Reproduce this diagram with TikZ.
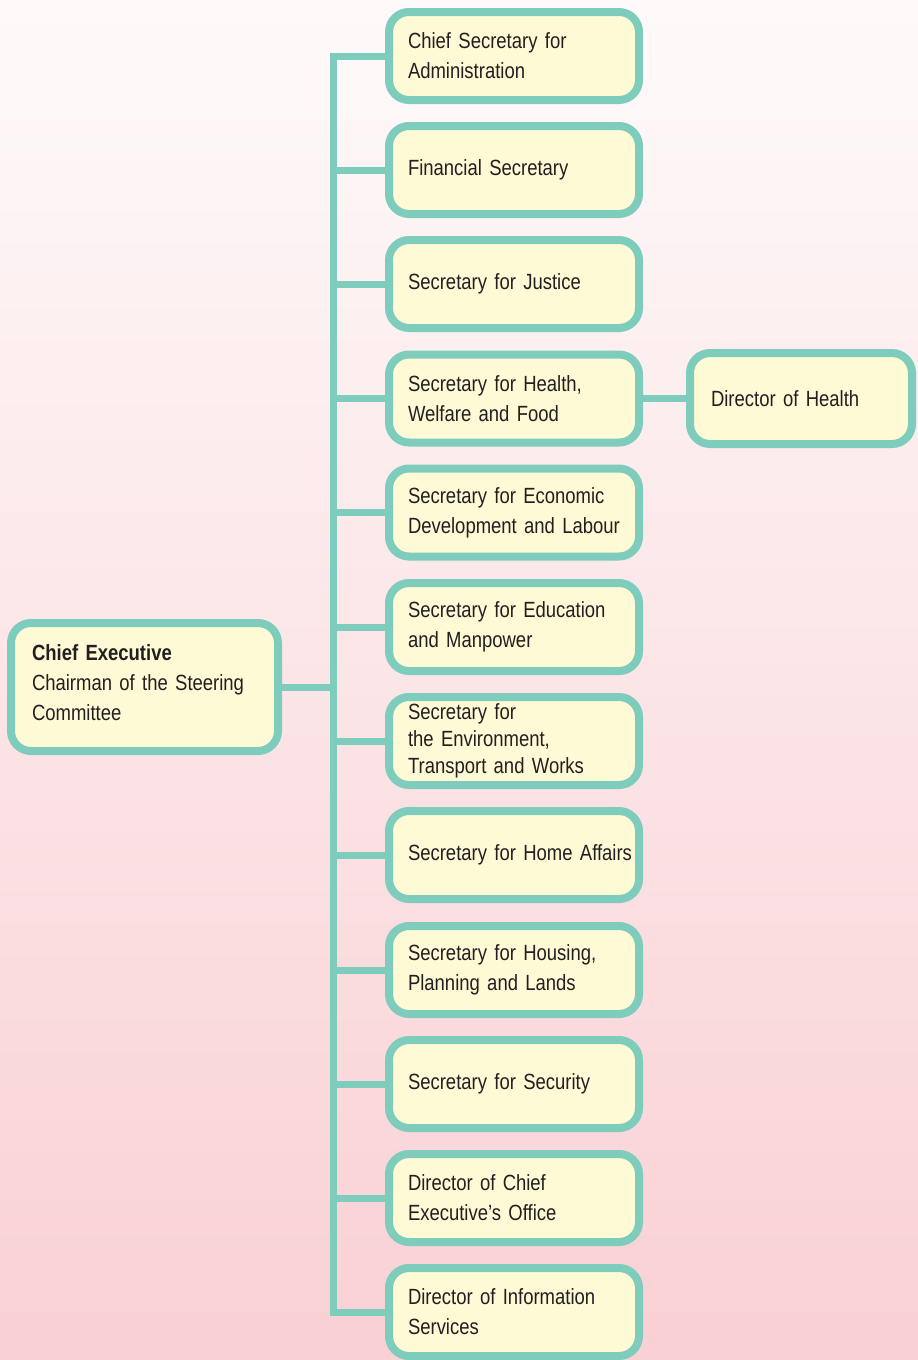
\documentclass[tikz,border=0pt]{standalone}
\usepackage{fontspec}
\setmainfont{Liberation Sans}[FakeStretch=0.84,WordSpace=0.75]
\definecolor{teal}{HTML}{7ECCBB}
\definecolor{boxfill}{HTML}{FFFAD6}
\definecolor{ink}{HTML}{231F20}
\definecolor{bgtop}{HTML}{FEFAFA}
\definecolor{bgbot}{HTML}{F9D0D4}
\tikzset{
  box/.style={draw=teal, fill=boxfill, line width=8pt, rounded corners=20pt,
    minimum width=250pt, minimum height=88pt, text width=212pt, inner xsep=19pt,
    align=left, text=ink, font=\fontsize{22pt}{30pt}\selectfont},
  conn/.style={draw=teal, line width=7pt, line join=miter}
}
\begin{document}
\begin{tikzpicture}[x=1pt,y=-1pt]
\shade[top color=bgtop, bottom color=bgbot] (0,0) rectangle (918,1360);
\useasboundingbox (0,0) rectangle (918,1360);
\coordinate (sp) at (333,0);
\node[box] (b1) at (514,56) {Chief Secretary for\\Administration};
\node[box] (b2) at (514,170) {Financial Secretary};
\node[box] (b3) at (514,284) {Secretary for Justice};
\node[box] (b4) at (514,398.5) {Secretary for Health,\\Welfare and Food};
\node[box] (b5) at (514,512.5) {\mbox{Secretary for Economic}\\\mbox{Development and Labour}};
\node[box] (b6) at (514,627) {\mbox{Secretary for Education}\\and Manpower};
\node[box, font=\fontsize{22pt}{27pt}\selectfont] (b7) at (514,741) {Secretary for\\the Environment,\\Transport and Works};
\node[box] (b8) at (514,855) {\mbox{Secretary for Home Affairs}};
\node[box] (b9) at (514,970) {\mbox{Secretary for Housing,}\\Planning and Lands};
\node[box] (b10) at (514,1084) {Secretary for Security};
\node[box] (b11) at (514,1198) {Director of Chief\\Executive’s Office};
\node[box] (b12) at (514,1312) {\mbox{Director of Information}\\Services};
\node[box, minimum width=222pt, minimum height=91pt, text width=180pt, inner xsep=21pt] (doh) at (801,398.5) {Director of Health};
\node[box, minimum width=267pt, minimum height=128pt, text width=225pt, inner xsep=21pt, yshift=-3pt] (ce) at (144.5,684) {\textbf{Chief Executive}\\Chairman of the Steering\\Committee\\[-22pt]\mbox{}};
\draw[conn] (b1.west) -| (sp |- b12.west) -- (b12.west);
\foreach \i in {2,...,11} { \draw[conn] (b\i.west) -- (b\i.west -| sp); }
\draw[conn] (ce.east) -- (ce.east -| sp);
\draw[conn] (b4.east) -- (doh.west);
\end{tikzpicture}
\end{document}
